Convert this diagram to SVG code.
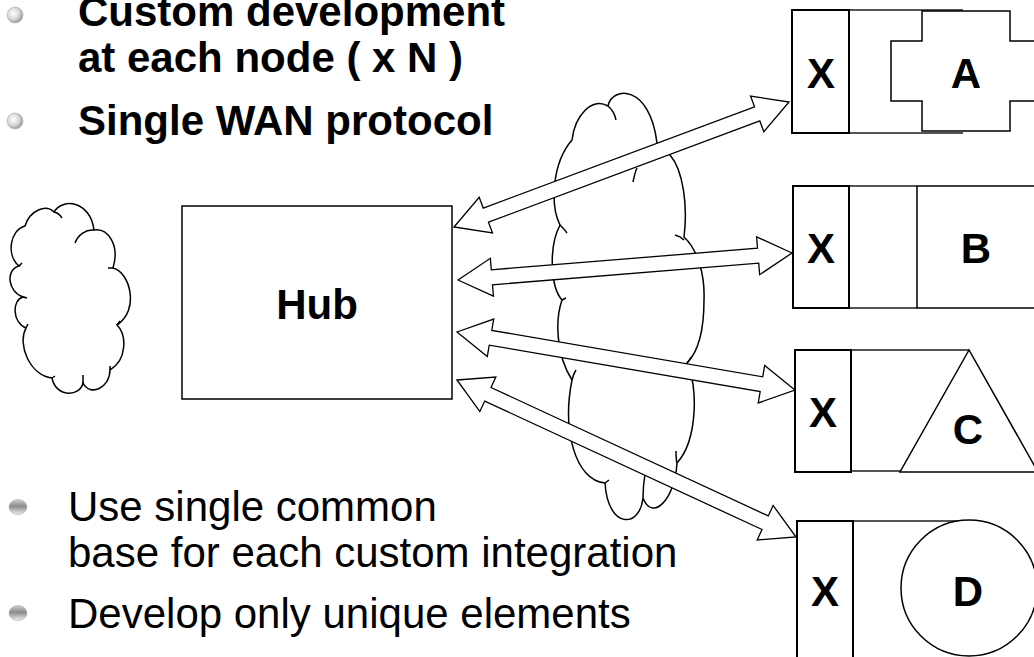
<svg xmlns="http://www.w3.org/2000/svg" width="1034" height="657" viewBox="0 0 1034 657">
<defs>
<radialGradient id="gb1" cx="0.4" cy="0.4" r="0.6">
<stop offset="0" stop-color="#ffffff"/><stop offset="0.6" stop-color="#d8d8d8"/><stop offset="1" stop-color="#9a9a9a"/>
</radialGradient>
<linearGradient id="gb2" x1="0" y1="0" x2="0" y2="1">
<stop offset="0" stop-color="#d0d0d0"/><stop offset="0.45" stop-color="#8a8a8a"/><stop offset="0.55" stop-color="#9c9c9c"/><stop offset="1" stop-color="#f0f0f0"/>
</linearGradient>
<style>
.t{font-family:"Liberation Sans",Arial,sans-serif;font-size:42px;fill:#000}
.b{font-weight:bold}
.m{text-anchor:middle}
.box{fill:#fff;stroke:#000;stroke-width:2}
.shape{fill:#fff;stroke:#000;stroke-width:1.5}
.edge{fill:none;stroke:#555;stroke-width:1.8}
.cloud{fill:#fff;stroke:#000;stroke-width:1.5}
.hook{fill:none;stroke:#000;stroke-width:1.5}
.arrow{fill:#fff;stroke:#000;stroke-width:1.3;stroke-linejoin:miter}
</style>
</defs>
<rect width="1034" height="657" fill="#fff"/>

<g id="top-text">
<circle cx="15" cy="15" r="8" fill="url(#gb1)" stroke="#bbb" stroke-width="0.8"/>
<circle cx="15" cy="121" r="8" fill="url(#gb1)" stroke="#bbb" stroke-width="0.8"/>
<text class="t b" x="78" y="26">Custom development</text>
<text class="t b" x="78" y="72">at each node ( x N )</text>
<text class="t b" x="78" y="135">Single WAN protocol</text>
</g>

<g id="bottom-text">
<ellipse cx="18" cy="507" rx="9" ry="7.5" fill="url(#gb2)" stroke="#aaa" stroke-width="0.6"/>
<ellipse cx="18" cy="613" rx="9" ry="7.5" fill="url(#gb2)" stroke="#aaa" stroke-width="0.6"/>
<text class="t" x="68" y="521">Use single common</text>
<text class="t" x="68" y="567">base for each custom integration</text>
<text class="t" x="68" y="628">Develop only unique elements</text>
</g>

<g id="left-cloud">
<path class="cloud" d="M25,226 C30,210 46,204 54,212 C62,198 90,200 94,230 C108,228 120,245 113,268 C130,272 140,310 117,325 C127,335 127,360 110,370 C110,388 90,397 83,383 C80,397 56,398 52,378 C30,375 17,345 26,328 C12,322 12,300 23,297 C8,292 5,270 19,266 C6,255 10,230 25,226 Z"/>
<path class="hook" d="M54,212 Q59,213 62,218 M75,243 C78,235 86,229 94,230 M113,268 L108,268 M117,325 L120,321 M110,370 L110,366 M83,383 L83,375 M52,378 L55,376 M26,328 L28,324 M23,297 L27,298 M19,266 L22,263"/>
</g>

<g id="wan-cloud">
<path class="cloud" d="M572,140 C575,115 592,97 608,106 C612,86 650,84 657,143 C662,146 666,150 670,155 C683,170 688,205 684,237 C698,250 705,275 704,300 C704,330 698,352 687,363 C698,385 698,440 677,463 C675,500 652,522 643,498 C640,528 608,530 605,483 C575,480 562,430 572,380 C556,355 555,320 562,300 C551,288 548,248 560,225 C550,205 552,163 572,140 Z"/>
<path class="hook" d="M608,106 C613,110 615,115 616,120 M637,168 C635,172 634,177 633,182 M675,235 C679,236 682,238 684,240 M560,225 C563,228 565,230 567,233 M562,300 L566,298 M572,380 C573,376 574,373 576,370 M605,483 L609,480 M643,498 C643,488 644,480 645,474 M677,463 C676,459 676,455 676,451 M687,363 C689,361 690,359 691,357"/>
</g>

<g id="hub">
<rect class="shape" x="182" y="206" width="270" height="193"/>
<text class="t b m" x="317" y="319">Hub</text>
</g>

<g id="connectors">
<path class="arrow" transform="translate(454,227) rotate(-20.46)" d="M0,0 L34,-19 L34,-7.5 L323.6,-7.5 L323.6,-19 L357.6,0 L323.6,19 L323.6,7.5 L34,7.5 L34,19 Z"/>
<path class="arrow" transform="translate(458,280) rotate(-4.62)" d="M0,0 L34,-19 L34,-7.5 L301.1,-7.5 L301.1,-19 L335.1,0 L301.1,19 L301.1,7.5 L34,7.5 L34,19 Z"/>
<path class="arrow" transform="translate(457,332) rotate(9.74)" d="M0,0 L34,-19 L34,-7.5 L308.9,-7.5 L308.9,-19 L342.9,0 L308.9,19 L308.9,7.5 L34,7.5 L34,19 Z"/>
<path class="arrow" transform="translate(457,380) rotate(24.85)" d="M0,0 L34,-19 L34,-7.5 L339.6,-7.5 L339.6,-19 L373.6,0 L339.6,19 L339.6,7.5 L34,7.5 L34,19 Z"/>
</g>

<g id="node-a">
<path class="edge" d="M849,10 H963 M849,133 H963"/>
<polygon class="shape" points="922,11 1010,11 1010,41 1041,41 1041,101 1010,101 1010,131 922,131 922,101 891,101 891,41 922,41"/>
<rect class="box" x="792" y="10" width="57" height="123"/>
<text class="t b m" x="821" y="88">X</text>
<text class="t b m" x="966" y="88">A</text>
</g>

<g id="node-b">
<path class="edge" d="M849,186 H917 M849,308 H917"/>
<rect class="shape" x="917" y="186" width="124" height="122"/>
<rect class="box" x="793" y="186" width="56" height="122"/>
<text class="t b m" x="821" y="263">X</text>
<text class="t b m" x="976" y="263">B</text>
</g>

<g id="node-c">
<path class="edge" d="M851,350 H969 M851,471 H900"/>
<polygon class="shape" points="969,350 900,472 1038,472"/>
<rect class="box" x="795" y="350" width="56" height="122"/>
<text class="t b m" x="823" y="427">X</text>
<text class="t b m" x="968" y="444">C</text>
</g>

<g id="node-d">
<path class="edge" d="M853,521 H965"/>
<circle class="shape" cx="969" cy="588" r="68"/>
<rect class="box" x="797" y="521" width="56" height="150"/>
<text class="t b m" x="825" y="606">X</text>
<text class="t b m" x="968" y="606">D</text>
</g>
</svg>
